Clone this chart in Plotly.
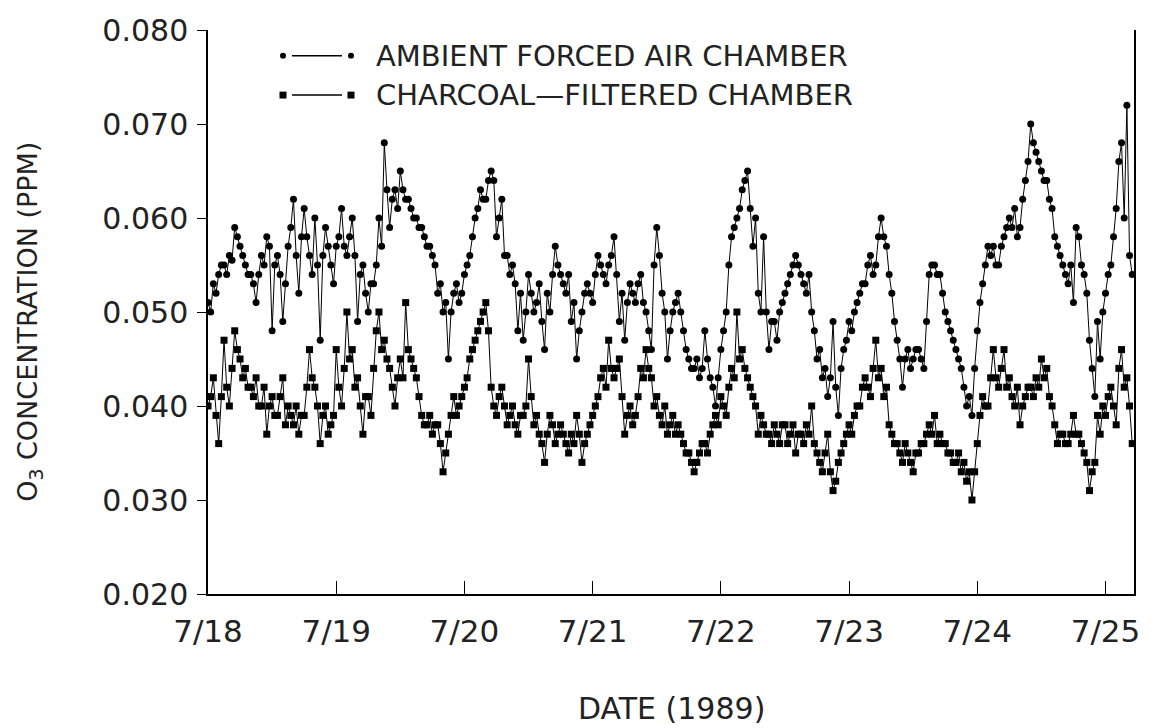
import pandas as pd
import plotly.graph_objects as go

# Half-hourly O3 readings (ppm) starting 1989-07-18 00:00
ambient = [
    0.051, 0.050, 0.053, 0.052, 0.054, 0.055, 0.055, 0.054, 0.056, 0.0555, 0.059, 0.058,
    0.057, 0.056, 0.055, 0.054, 0.054, 0.053, 0.051, 0.054, 0.056, 0.055, 0.058, 0.057,
    0.048, 0.055, 0.056, 0.054, 0.049, 0.053, 0.057, 0.059, 0.062, 0.056, 0.052, 0.058,
    0.061, 0.058, 0.056, 0.054, 0.060, 0.055, 0.047, 0.056, 0.059, 0.057, 0.055, 0.053,
    # 7/19
    0.057, 0.058, 0.061, 0.057, 0.056, 0.058, 0.060, 0.056, 0.049, 0.054, 0.055, 0.052,
    0.050, 0.053, 0.053, 0.055, 0.060, 0.057, 0.068, 0.063, 0.059, 0.062, 0.063, 0.061,
    0.065, 0.063, 0.062, 0.062, 0.061, 0.060, 0.060, 0.059, 0.059, 0.058, 0.057, 0.057,
    0.056, 0.055, 0.052, 0.053, 0.050, 0.051, 0.045, 0.050, 0.052, 0.053, 0.051, 0.052,
    # 7/20
    0.054, 0.055, 0.056, 0.058, 0.060, 0.061, 0.063, 0.062, 0.062, 0.064, 0.065, 0.064,
    0.058, 0.060, 0.062, 0.056, 0.056, 0.054, 0.055, 0.053, 0.048, 0.052, 0.047, 0.050,
    0.054, 0.052, 0.050, 0.051, 0.053, 0.049, 0.046, 0.052, 0.050, 0.054, 0.057, 0.055,
    0.054, 0.053, 0.052, 0.054, 0.049, 0.051, 0.045, 0.048, 0.050, 0.052, 0.053, 0.052,
    # 7/21
    0.051, 0.054, 0.056, 0.055, 0.054, 0.053, 0.055, 0.056, 0.058, 0.054, 0.049, 0.052,
    0.047, 0.051, 0.053, 0.052, 0.051, 0.053, 0.054, 0.051, 0.050, 0.048, 0.046, 0.055,
    0.059, 0.056, 0.052, 0.050, 0.045, 0.048, 0.050, 0.051, 0.052, 0.050, 0.048, 0.046,
    0.045, 0.044, 0.044, 0.045, 0.043, 0.044, 0.048, 0.045, 0.043, 0.042, 0.040, 0.043,
    # 7/22
    0.046, 0.048, 0.050, 0.055, 0.058, 0.059, 0.060, 0.061, 0.063, 0.064, 0.065, 0.061,
    0.057, 0.060, 0.052, 0.050, 0.058, 0.050, 0.046, 0.049, 0.049, 0.047, 0.050, 0.051,
    0.052, 0.053, 0.054, 0.055, 0.056, 0.055, 0.054, 0.053, 0.052, 0.054, 0.050, 0.048,
    0.045, 0.046, 0.043, 0.044, 0.041, 0.043, 0.049, 0.042, 0.039, 0.044, 0.046, 0.047,
    # 7/23
    0.049, 0.048, 0.050, 0.051, 0.052, 0.053, 0.053, 0.055, 0.056, 0.054, 0.055, 0.058,
    0.060, 0.058, 0.057, 0.054, 0.052, 0.049, 0.047, 0.045, 0.042, 0.045, 0.046, 0.044,
    0.045, 0.046, 0.046, 0.045, 0.044, 0.049, 0.054, 0.055, 0.055, 0.054, 0.054, 0.052,
    0.050, 0.049, 0.048, 0.047, 0.046, 0.045, 0.044, 0.042, 0.040, 0.041, 0.039, 0.044,
    # 7/24
    0.048, 0.051, 0.053, 0.055, 0.057, 0.056, 0.057, 0.055, 0.055, 0.057, 0.058, 0.059,
    0.060, 0.059, 0.061, 0.058, 0.059, 0.062, 0.064, 0.066, 0.070, 0.068, 0.067, 0.066,
    0.065, 0.064, 0.064, 0.062, 0.061, 0.058, 0.057, 0.056, 0.055, 0.054, 0.053, 0.055,
    0.051, 0.059, 0.058, 0.055, 0.054, 0.052, 0.047, 0.044, 0.041, 0.049, 0.045, 0.050,
    # 7/25
    0.052, 0.054, 0.055, 0.058, 0.061, 0.066, 0.068, 0.060, 0.072, 0.056, 0.054,
]

charcoal = [
    0.040, 0.041, 0.043, 0.039, 0.036, 0.041, 0.047, 0.042, 0.040, 0.044, 0.048, 0.046,
    0.045, 0.043, 0.044, 0.042, 0.042, 0.041, 0.043, 0.040, 0.040, 0.042, 0.037, 0.040,
    0.041, 0.039, 0.039, 0.041, 0.043, 0.038, 0.040, 0.039, 0.038, 0.040, 0.037, 0.039,
    0.039, 0.042, 0.046, 0.043, 0.042, 0.040, 0.036, 0.039, 0.040, 0.037, 0.038, 0.039,
    # 7/19
    0.046, 0.042, 0.040, 0.044, 0.050, 0.045, 0.046, 0.042, 0.043, 0.040, 0.037, 0.041,
    0.041, 0.039, 0.044, 0.048, 0.050, 0.046, 0.047, 0.045, 0.044, 0.042, 0.040, 0.043,
    0.045, 0.043, 0.051, 0.046, 0.045, 0.044, 0.043, 0.041, 0.039, 0.038, 0.038, 0.039,
    0.037, 0.038, 0.038, 0.036, 0.033, 0.035, 0.037, 0.039, 0.041, 0.039, 0.040, 0.041,
    # 7/20
    0.042, 0.043, 0.045, 0.046, 0.047, 0.048, 0.049, 0.050, 0.051, 0.048, 0.042, 0.040,
    0.039, 0.041, 0.042, 0.040, 0.038, 0.039, 0.040, 0.038, 0.037, 0.039, 0.039, 0.040,
    0.045, 0.041, 0.038, 0.039, 0.037, 0.036, 0.034, 0.037, 0.039, 0.038, 0.036, 0.037,
    0.038, 0.037, 0.036, 0.035, 0.037, 0.036, 0.039, 0.037, 0.034, 0.036, 0.037, 0.038,
    # 7/21
    0.039, 0.040, 0.041, 0.043, 0.044, 0.042, 0.047, 0.044, 0.043, 0.044, 0.045, 0.041,
    0.037, 0.039, 0.040, 0.038, 0.039, 0.041, 0.044, 0.043, 0.046, 0.044, 0.043, 0.040,
    0.041, 0.039, 0.038, 0.040, 0.037, 0.038, 0.039, 0.037, 0.038, 0.037, 0.036, 0.035,
    0.035, 0.034, 0.033, 0.034, 0.035, 0.036, 0.036, 0.035, 0.037, 0.038, 0.039, 0.038,
    # 7/22
    0.041, 0.040, 0.039, 0.042, 0.044, 0.043, 0.050, 0.045, 0.046, 0.044, 0.043, 0.042,
    0.041, 0.040, 0.037, 0.039, 0.038, 0.037, 0.037, 0.036, 0.038, 0.037, 0.036, 0.038,
    0.038, 0.036, 0.037, 0.038, 0.035, 0.037, 0.037, 0.036, 0.038, 0.037, 0.040, 0.036,
    0.035, 0.034, 0.033, 0.035, 0.037, 0.033, 0.031, 0.032, 0.034, 0.035, 0.036, 0.037,
    # 7/23
    0.038, 0.037, 0.039, 0.040, 0.040, 0.042, 0.043, 0.042, 0.041, 0.044, 0.047, 0.043,
    0.044, 0.041, 0.042, 0.038, 0.037, 0.036, 0.036, 0.035, 0.034, 0.036, 0.035, 0.034,
    0.033, 0.035, 0.035, 0.036, 0.036, 0.037, 0.038, 0.037, 0.039, 0.036, 0.037, 0.036,
    0.036, 0.035, 0.035, 0.034, 0.034, 0.035, 0.033, 0.034, 0.032, 0.033, 0.030, 0.033,
    # 7/24
    0.036, 0.039, 0.041, 0.040, 0.040, 0.043, 0.046, 0.043, 0.042, 0.044, 0.046, 0.042,
    0.043, 0.041, 0.040, 0.042, 0.038, 0.040, 0.041, 0.042, 0.042, 0.041, 0.043, 0.042,
    0.045, 0.043, 0.044, 0.041, 0.040, 0.038, 0.036, 0.037, 0.037, 0.036, 0.036, 0.037,
    0.039, 0.037, 0.037, 0.036, 0.035, 0.034, 0.031, 0.033, 0.034, 0.039, 0.037, 0.040,
    # 7/25
    0.039, 0.041, 0.042, 0.040, 0.038, 0.044, 0.046, 0.042, 0.043, 0.040, 0.036,
]

tick_dates = ["1989-07-18", "1989-07-19", "1989-07-20", "1989-07-21",
              "1989-07-22", "1989-07-23", "1989-07-24", "1989-07-25"]
tick_labels = ["7/18", "7/19", "7/20", "7/21", "7/22", "7/23", "7/24", "7/25"]
y_ticks = [0.020, 0.030, 0.040, 0.050, 0.060, 0.070, 0.080]

times_a = pd.date_range("1989-07-18 00:00", periods=len(ambient), freq="30min")
times_c = pd.date_range("1989-07-18 00:00", periods=len(charcoal), freq="30min")

FONT = "DejaVu Sans"
TXT = "#222222"

fig = go.Figure()
fig.add_trace(go.Scatter(
    x=times_c, y=charcoal, mode="lines+markers", name="CHARCOAL-FILTERED CHAMBER",
    line=dict(color="black", width=1),
    marker=dict(symbol="square", size=7, color="black"),
    showlegend=False,
))
fig.add_trace(go.Scatter(
    x=times_a, y=ambient, mode="lines+markers", name="AMBIENT FORCED AIR CHAMBER",
    line=dict(color="black", width=1),
    marker=dict(symbol="circle", size=7, color="black"),
    showlegend=False,
))

# plot area in pixels
L, R, T, B = 208, 1134, 22, 594
W, H = 1156, 728


def px(x):
    return (x - L) / (R - L)


def py(y):
    return (B - y) / (B - T)


fig.update_layout(
    width=W, height=H,
    margin=dict(l=L, r=W - R, t=T, b=H - B),
    paper_bgcolor="white", plot_bgcolor="white",
    font=dict(family=FONT, color=TXT),
    xaxis=dict(
        range=["1989-07-18 00:00", "1989-07-25 05:20"],
        tickvals=tick_dates, ticktext=tick_labels,
        ticks="inside", ticklen=13, tickwidth=1.2, tickcolor="black",
        showline=True, linecolor="black", linewidth=1.5, mirror=False,
        showgrid=False, zeroline=False,
        tickfont=dict(family=FONT, size=31, color=TXT),
        ticklabelstandoff=9,
    ),
    yaxis=dict(
        range=[0.020, 0.080],
        tickvals=y_ticks, tickformat=".3f",
        ticks="outside", ticklen=9, tickwidth=1.2, tickcolor="black",
        showline=True, linecolor="black", linewidth=1.5, mirror=True,
        showgrid=False, zeroline=False,
        tickfont=dict(family=FONT, size=30, color=TXT),
        ticklabelstandoff=3,
    ),
)

annotations = [
    dict(text="O<sub>3</sub> CONCENTRATION (PPM)", textangle=-90,
         x=px(30), y=py(318), xref="paper", yref="paper",
         xanchor="center", yanchor="middle", showarrow=False,
         font=dict(family=FONT, size=27, color=TXT)),
    dict(text="DATE (1989)", x=px(671), y=py(710), xref="paper", yref="paper",
         xanchor="center", yanchor="middle", showarrow=False,
         font=dict(family=FONT, size=30, color=TXT)),
    dict(text="AMBIENT FORCED AIR CHAMBER", x=px(374), y=py(48),
         xref="paper", yref="paper", xanchor="left", yanchor="middle",
         showarrow=False, font=dict(family=FONT, size=29, color=TXT)),
    dict(text="CHARCOAL\u2014FILTERED CHAMBER", x=px(374), y=py(88),
         xref="paper", yref="paper", xanchor="left", yanchor="middle",
         showarrow=False, font=dict(family=FONT, size=29, color=TXT)),
]
fig.update_layout(annotations=annotations)

shapes = []
# legend samples: marker — line — marker
for yy, kind, r in [(48, "circle", 3), (88, "rect", 3.5)]:
    shapes.append(dict(type="line", xref="paper", yref="paper",
                       x0=px(292), x1=px(342), y0=py(yy), y1=py(yy),
                       line=dict(color="black", width=1.5)))
    for cx in (283, 351):
        shapes.append(dict(type=kind, xref="paper", yref="paper",
                           x0=px(cx - r), x1=px(cx + r), y0=py(yy - r), y1=py(yy + r),
                           fillcolor="black", line=dict(color="black", width=0)))
fig.update_layout(shapes=shapes)

fig.write_html("out.html")
